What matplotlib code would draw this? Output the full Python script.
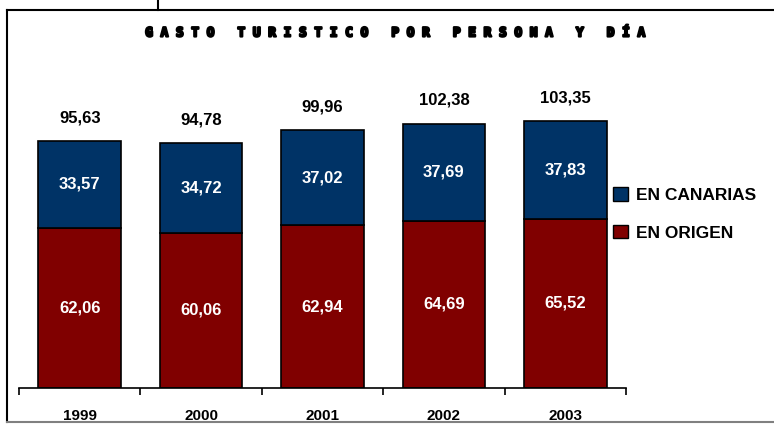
import matplotlib
matplotlib.use("Agg")
import matplotlib.pyplot as plt
import matplotlib.patheffects as pe
from matplotlib.lines import Line2D
from matplotlib.patches import Patch

plt.rcParams['font.family'] = ['Liberation Sans', 'DejaVu Sans']

years = ["1999", "2000", "2001", "2002", "2003"]
origen = [62.06, 60.06, 62.94, 64.69, 65.52]
canarias = [33.57, 34.72, 37.02, 37.69, 37.83]
totales = [95.63, 94.78, 99.96, 102.38, 103.35]

col_origen = "#800000"
col_canarias = "#003366"

W, H = 774, 425
fig = plt.figure(figsize=(W / 100, H / 100), dpi=100)

# marco exterior
fig.add_artist(Line2D([7 / W, 7 / W], [1 - 10 / H, 1 - 422 / H], color="black", lw=1.5))
fig.add_artist(Line2D([7 / W, 1], [1 - 10 / H, 1 - 10 / H], color="black", lw=1.5))
fig.add_artist(Line2D([7 / W, 1], [1 - 422 / H, 1 - 422 / H], color="#808080", lw=1.5))
fig.add_artist(Line2D([158 / W, 158 / W], [1, 1 - 10 / H], color="black", lw=1.5))

ax = fig.add_axes([19 / W, (H - 388) / H, (626 - 19) / W, 310 / H])
x = range(len(years))
ax.bar(x, origen, width=0.68, color=col_origen, edgecolor="black", linewidth=1.2)
ax.bar(x, canarias, bottom=origen, width=0.68, color=col_canarias, edgecolor="black", linewidth=1.2)

def fmt(v):
    return f"{v:.2f}".replace(".", ",")

for i in x:
    ax.text(i, origen[i] / 2, fmt(origen[i]), ha="center", va="center",
            color="white", fontsize=12, fontweight="bold")
    ax.text(i, origen[i] + canarias[i] / 2, fmt(canarias[i]), ha="center",
            va="center", color="white", fontsize=12, fontweight="bold")
    ax.text(i, totales[i] + 9, fmt(totales[i]), ha="center", va="center",
            color="black", fontsize=12, fontweight="bold")

ax.set_xlim(-0.5, len(years) - 0.5)
ax.set_ylim(0, 120)
ax.set_yticks([])
ax.set_xticks([i + 0.5 for i in range(-1, len(years))])
ax.set_xticklabels([])
ax.set_xticks(list(x), minor=True)
ax.set_xticklabels(years, minor=True, fontsize=11, fontweight="bold")
ax.tick_params(axis="x", which="major", length=5, width=1.2, direction="out")
ax.tick_params(axis="x", which="minor", length=0, pad=15)
for s in ["top", "right", "left"]:
    ax.spines[s].set_visible(False)
ax.spines["bottom"].set_linewidth(1.2)

# titulo con letras espaciadas y trazo grueso
fig.text(393 / W, 1 - 33 / H, " ".join("GASTO TURISTICO POR PERSONA Y DÍA"), ha="center", va="center",
         fontsize=9.2, fontweight="bold", family=["DejaVu Sans Mono", "DejaVu Sans"],
         path_effects=[pe.withStroke(linewidth=1.6, foreground="black")])

handles = [Patch(facecolor=col_canarias, edgecolor="black"), Patch(facecolor=col_origen, edgecolor="black")]
fig.legend(handles, ["EN CANARIAS", "EN ORIGEN"], loc="upper left", bbox_to_anchor=(606 / W, 1 - 180 / H),
           frameon=False, handlelength=0.85, handleheight=0.85, handletextpad=0.45, labelspacing=1.25,
           borderaxespad=0, prop={"weight": "bold", "size": 12.5})

fig.savefig("out.png", dpi=100)
